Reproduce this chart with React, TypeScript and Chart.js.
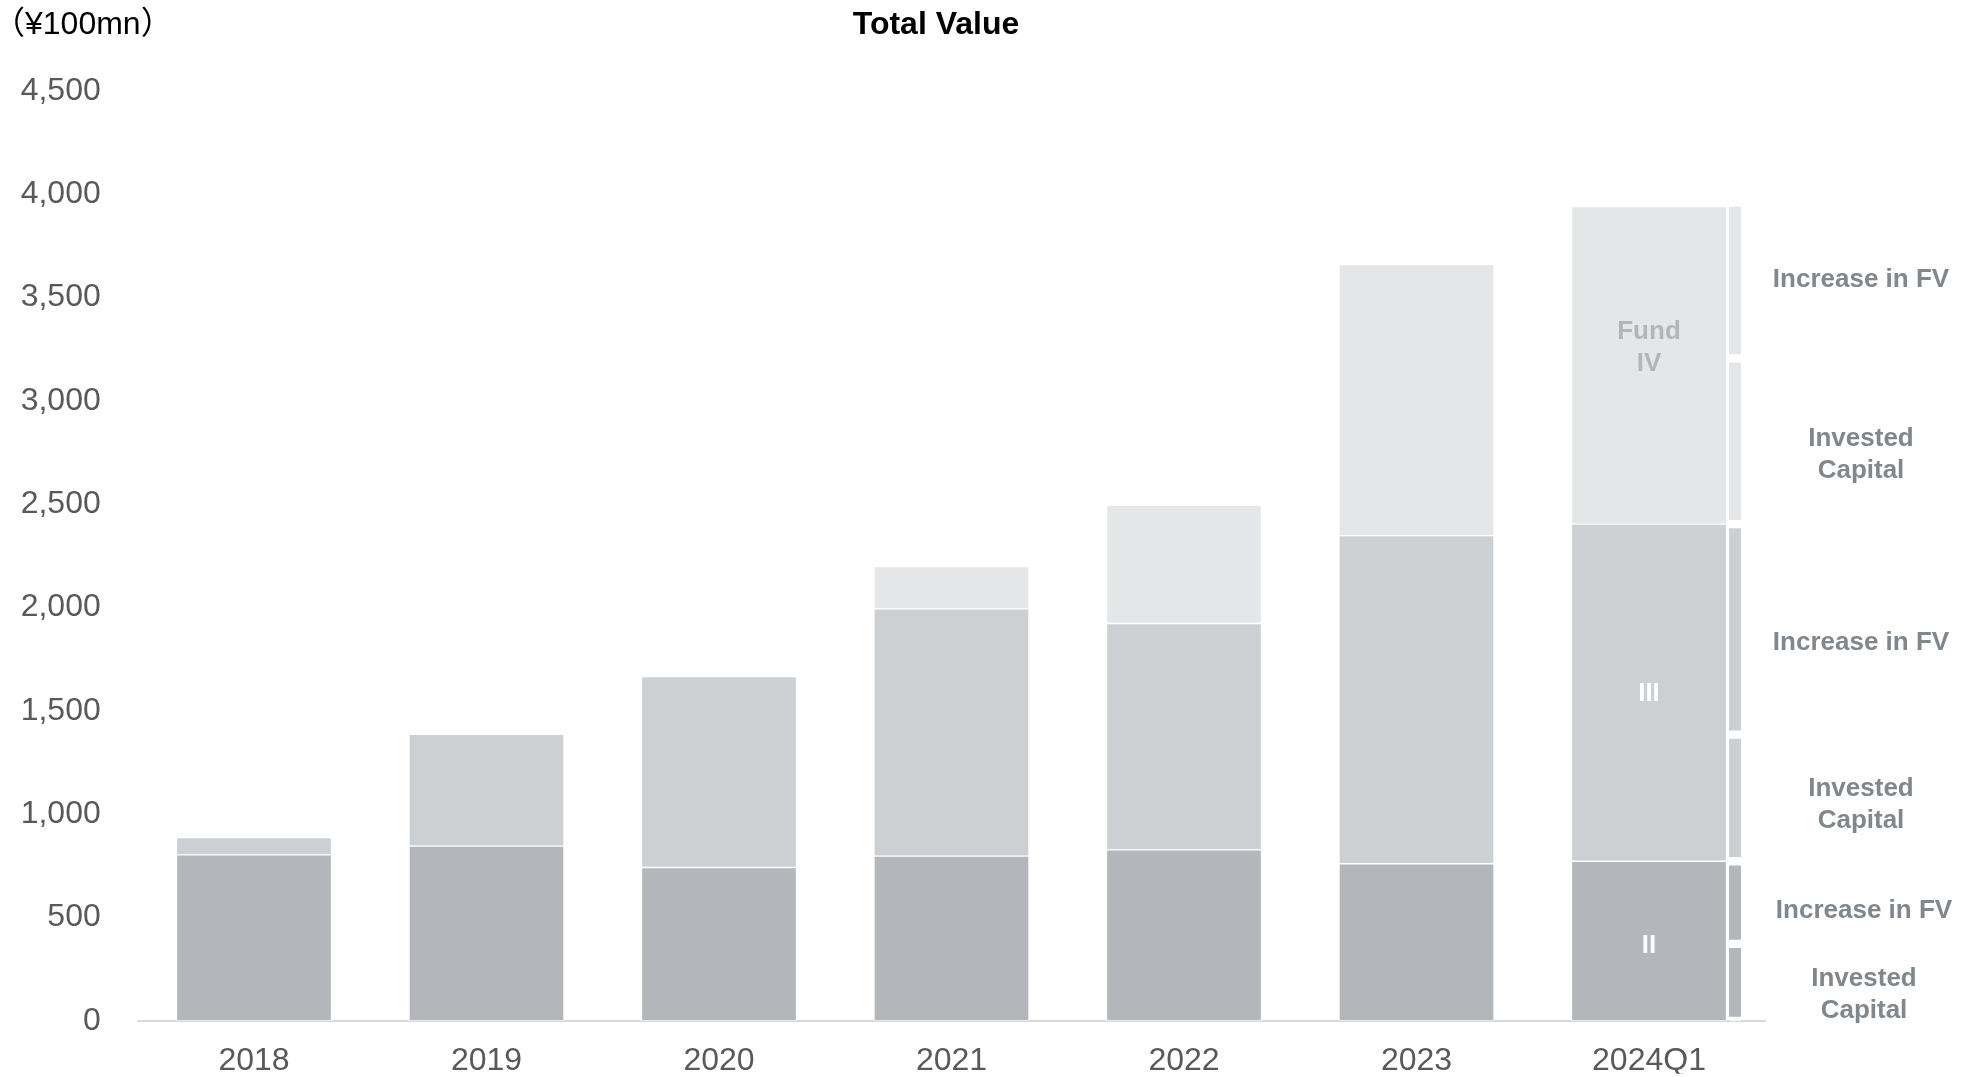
import React, { useEffect, useRef } from 'react';
import { Chart, registerables } from 'chart.js';

Chart.register(...registerables);

// ---- data ----
const categories = ['2018', '2019', '2020', '2021', '2022', '2023', '2024Q1'];
const fundII = [803, 845, 742, 797, 827, 760, 772];
const fundIII = [84, 541, 924, 1197, 1096, 1588, 1632];
const fundIV = [null, null, null, 204, 573, 1312, 1537];
const fundNames = ['II', 'III', 'IV'];
// 2024Q1 breakdown of each fund (II, III, IV)
const breakdownInvested = [372, 613, 802];
const breakdownIncrease = [400, 1019, 735];
const breakdownLabels = ['Invested\nCapital', 'Increase in FV'];
const yMax = 4500;
const yStep = 500;
const titleText = 'Total Value';
const unitText = '（¥100mn）';

const COLORS = ['#b3b6ba', '#cdd0d3', '#e5e6e8'];
const FONT = "'Liberation Sans', Arial, Helvetica, sans-serif";
const W = 1975;
const H = 1077;

export default function App() {
  const ref = useRef<HTMLCanvasElement | null>(null);

  useEffect(() => {
    const canvas = ref.current;
    if (!canvas) return;

    // floating ranges for the breakdown column
    const ranges: { fund: number; kind: number; lo: number; hi: number }[] = [];
    let base = 0;
    for (let f = 0; f < fundNames.length; f++) {
      const inv = breakdownInvested[f];
      const inc = breakdownIncrease[f];
      ranges.push({ fund: f, kind: 0, lo: base, hi: base + inv });
      ranges.push({ fund: f, kind: 1, lo: base + inv, hi: base + inv + inc });
      base += inv + inc;
    }
    const lastIdx = categories.length - 1;
    const breakdownX = lastIdx + 0.37;

    const mainSets = [fundII, fundIII, fundIV].map((d, i) => ({
      label: 'Fund ' + fundNames[i],
      data: d.map((v, k) => ({ x: k, y: v })),
      backgroundColor: COLORS[i],
      borderColor: '#ffffff',
      borderWidth: 1,
      borderSkipped: false as const,
      barThickness: 155,
      grouped: false,
      xAxisID: 'x',
      yAxisID: 'y',
      stack: 'main',
    }));

    const breakSets = ranges.map((r, i) => ({
      label: 'Fund ' + fundNames[r.fund] + ' ' + breakdownLabels[r.kind].replace('\n', ' '),
      data: [{ x: breakdownX, y: [r.lo, r.hi] }],
      backgroundColor: COLORS[r.fund],
      borderColor: '#ffffff',
      borderWidth: { top: i === ranges.length - 1 ? 0 : 4.5, bottom: 4.5, left: 0, right: 0 },
      borderSkipped: false as const,
      barThickness: 12,
      grouped: false,
      xAxisID: 'x',
      yAxisID: 'y2',
    }));

    const labelOffsets = [12, 8.5, 6.5, 13.5, 13.5, -2.5];
    const labelXs = [1864, 1864, 1861, 1861, 1861, 1861];

    const textPlugin = {
      id: 'texts',
      afterDraw(chart: any) {
        const ctx = chart.ctx;
        const y = chart.scales.y;
        const x = chart.scales.x;
        ctx.save();
        ctx.textBaseline = 'middle';
        // title
        ctx.fillStyle = '#000000';
        ctx.textAlign = 'center';
        ctx.font = `bold 32px ${FONT}`;
        ctx.fillText(titleText, 936, 25);
        // unit
        ctx.textAlign = 'left';
        ctx.font = `32px ${FONT}, 'Noto Sans CJK JP'`;
        ctx.fillText(unitText, -7, 25);

        // side labels
        ctx.textAlign = 'center';
        ctx.font = `bold 26px ${FONT}`;
        ctx.fillStyle = '#80878d';
        ranges.forEach((r, i) => {
          const mid = (y.getPixelForValue(r.lo) + y.getPixelForValue(r.hi)) / 2 + labelOffsets[i];
          const lines = breakdownLabels[r.kind].split('\n');
          const lh = 32;
          lines.forEach((ln, k) => {
            ctx.fillText(ln, labelXs[i], mid + (k - (lines.length - 1) / 2) * lh);
          });
        });

        // inner fund labels on last bar
        const cx = x.getPixelForValue(lastIdx);
        const segs = [fundII[lastIdx], fundIII[lastIdx], fundIV[lastIdx] as number];
        let acc = 0;
        segs.forEach((v, f) => {
          const top = y.getPixelForValue(acc + v);
          const bot = y.getPixelForValue(acc);
          acc += v;
          const mid = (top + bot) / 2;
          if (f === 2) {
            ctx.fillStyle = '#b2b5b9';
            ctx.fillText('Fund', cx, mid - 33);
            ctx.fillText(fundNames[f], cx, mid - 1);
          } else {
            ctx.fillStyle = '#ffffff';
            ctx.fillText(fundNames[f], cx, mid + (f === 0 ? 5 : 1));
          }
        });
        ctx.restore();
      },
    };

    const chart = new Chart(canvas, {
      type: 'bar',
      data: {
        datasets: [...mainSets, ...breakSets] as any,
      },
      options: {
        animation: false,
        responsive: false,
        maintainAspectRatio: false,
        devicePixelRatio: 1,
        font: { family: FONT },
        layout: { padding: { top: 91, left: 0, right: 209.75, bottom: 0 } },
        plugins: {
          legend: { display: false },
          tooltip: { enabled: false },
          title: { display: false },
        },
        scales: {
          x: {
            type: 'linear',
            min: -0.5,
            max: categories.length - 0.5,
            offset: false,
            stacked: true,
            grid: { display: false, drawTicks: false, offset: false },
            border: { display: true, color: '#d9d9d9', width: 2 },
            afterBuildTicks: (s: any) => {
              s.ticks = categories.map((_, i) => ({ value: i }));
            },
            ticks: {
              color: '#595959',
              font: { size: 32, family: FONT },
              padding: 21,
              autoSkip: false,
              maxRotation: 0,
              callback: (v: any) => categories[Math.round(Number(v))] ?? '',
            },
            afterFit: (s: any) => { s.height = 53; },
          },
          y: {
            stacked: true,
            min: 0,
            max: yMax,
            grid: { display: false, drawTicks: false },
            border: { display: false },
            ticks: {
              stepSize: yStep,
              color: '#595959',
              font: { size: 32, family: FONT },
              padding: 37,
              callback: (v: any) => Number(v).toLocaleString('en-US'),
            },
            afterFit: (s: any) => { s.width = 137.75; },
          },
          y2: {
            type: 'linear',
            display: false,
            stacked: false,
            min: 0,
            max: yMax,
          },
        },
      } as any,
      plugins: [textPlugin],
    });
    return () => chart.destroy();
  }, []);

  return (
    <div style={{ position: 'fixed', left: 0, top: 0, width: W, height: H, background: '#ffffff' }}>
      <canvas ref={ref} width={W} height={H} style={{ display: 'block', width: W, height: H }} />
    </div>
  );
}
